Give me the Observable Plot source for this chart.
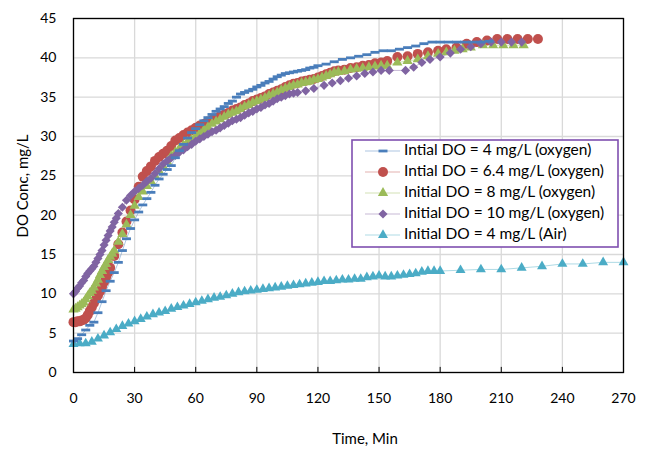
<!DOCTYPE html>
<html><head><meta charset="utf-8">
<script src="https://cdn.jsdelivr.net/npm/d3@7"></script>
<script src="https://cdn.jsdelivr.net/npm/@observablehq/plot@0.6"></script>
<style>body{margin:0;background:#fff;font-family:Lato,"Open Sans",sans-serif}</style>
</head><body><div id="chart"></div>
<script>
const xTicks = [0, 30, 60, 90, 120, 150, 180, 210, 240, 270];
const yTicks = [0, 5, 10, 15, 20, 25, 30, 35, 40, 45];
const seriesNames = [
  "Intial DO = 4 mg/L (oxygen)",
  "Intial DO = 6.4 mg/L (oxygen)",
  "Initial DO = 8 mg/L (oxygen)",
  "Initial DO = 10 mg/L (oxygen)",
  "Initial DO = 4 mg/L (Air)"
];
const seriesColors = ["#4a7ebb", "#c0504d", "#9bbb59", "#8064a2", "#4bacc6"];

// [time (min), DO (mg/L)]
const oxygen4 = [[0,4.0],[2,4.3],[4,4.8],[6,5.4],[8,6.0],[10,6.4],[12,7.6],[14,9.0],[16,10.4],[18,11.6],[20,12.7],[22,14.0],[24,15.5],[26,17.0],[28,18.3],[30,19.4],[32,20.4],[34,21.3],[36,22.1],[38,22.9],[40,23.8],[42,24.6],[44,25.2],[46,25.8],[48,26.3],
[50,27.3],[52,28.2],[54,29.0],[56,29.8],[58,30.5],[60,31.0],[62,31.5],[64,32.0],[66,32.4],[68,32.8],[70,33.2],[72,33.5],[74,33.8],[76,34.2],[78,34.5],[80,35.0],[82,35.4],[84,35.6],[86,35.8],[88,36.0],[90,36.3],[92,36.5],[94,36.8],[96,37.0],[98,37.3],[100,37.6],[102,37.8],[104,38.0],[106,38.1],[108,38.2],[110,38.3],[112,38.4],[114,38.5],[116,38.7],[118,38.8],[120,39.0],
[124,39.2],[128,39.5],[132,39.8],[136,40.0],[140,40.2],[144,40.4],[148,40.7],[152,40.9],[156,40.9],[160,41.1],[164,41.3],[168,41.5],[172,41.8],[176,42.0],[180,42.0],[184,42.0],[188,42.0],[192,42.0],[196,42.0],[200,42.0],[204,42.1]];

const oxygen64 = [[0,6.4],[1,6.4],[2,6.5],[3,6.5],[4,6.6],[5,6.7],[6,6.9],[7,7.3],[8,7.8],[9,8.3],[10,8.8],[11,9.3],[12,9.8],[13,10.3],[14,10.9],[15,11.5],[16,12.1],[17,12.7],[18,13.3],
[20,14.8],[22,16.3],[24,17.8],[26,19.2],[28,20.6],[30,22.0],[32,23.6],[34,24.9],[36,25.6],[38,26.2],[40,26.9],[42,27.4],[44,27.8],[46,28.2],[48,28.8],[50,29.5],[52,29.8],[54,30.2],[56,30.5],[58,30.8],[60,31.1],[62,31.4],[64,31.6],[66,31.9],[68,32.1],[70,32.3],[72,32.6],[74,32.8],[76,33.0],[78,33.3],[80,33.5],[82,33.7],[84,34.0],[86,34.2],[88,34.5],[90,34.7],[92,34.9],[94,35.1],[96,35.4],[98,35.6],[100,35.8],[102,36.0],[104,36.3],[106,36.5],[108,36.7],[110,36.8],[112,37.0],[114,37.1],[116,37.2],[118,37.3],[120,37.5],[122,37.7],[124,37.9],[126,38.1],[128,38.3],[130,38.4],
[133,38.5],[136,38.7],[139,38.8],[142,39.0],[145,39.1],[148,39.3],[151,39.4],[154,39.6],[159,40.1],[164,40.2],[169,40.5],[174,40.7],[179,40.9],[183,41.1],[188,41.3],[193,41.8],[198,42.0],[203,42.2],[208,42.4],[213,42.4],[218,42.4],[223,42.4],[228,42.4]];

const oxygen8 = [[0,8.0],[1,8.1],[2,8.3],[3,8.5],[4,8.7],[5,8.9],[6,9.3],[7,9.7],[8,10.1],[9,10.4],[10,10.8],[11,11.3],[12,11.8],[13,12.4],[14,12.9],[15,13.4],[16,13.8],[17,14.3],[18,14.7],[19,15.1],[20,15.5],
[22,16.6],[24,17.6],[26,18.8],[28,20.0],[30,21.2],[32,22.3],[34,23.0],[36,23.7],[38,24.3],[40,25.0],[42,25.6],[44,26.2],[46,26.8],[48,27.5],[50,28.0],[52,28.5],[54,28.9],[56,29.3],[58,29.6],[60,30.0],[62,30.4],[64,30.8],[66,31.2],[68,31.6],[70,31.9],[72,32.2],[74,32.5],[76,32.8],[78,33.0],[80,33.2],[82,33.5],[84,33.8],[86,34.0],[88,34.3],[90,34.5],[92,34.7],[94,34.9],[96,35.2],[98,35.4],[100,35.6],[102,35.9],[104,36.1],[106,36.3],[108,36.5],[110,36.6],[112,36.8],[114,36.9],[116,37.0],[118,37.2],[120,37.3],[122,37.5],[124,37.7],[126,37.9],[128,38.1],[130,38.2],
[133,38.3],[136,38.5],[139,38.6],[142,38.7],[145,38.8],[148,38.9],[151,39.0],[154,39.0],[159,39.4],[164,39.6],[169,39.8],[174,40.2],[179,40.5],[183,40.7],[187,40.9],[191,41.1],[195,41.3],[201,41.6],[206,41.6],[211,41.6],[216,41.6],[221,41.6]];

const oxygen10 = [[0,10.0],[1,10.3],[2,10.7],[3,11.0],[4,11.4],[5,11.7],[6,12.2],[7,12.6],[8,12.9],[9,13.2],[10,13.5],[11,14.0],[12,14.5],[13,15.0],[14,15.5],[15,16.2],[16,16.8],[17,17.4],[18,18.0],[19,18.5],[20,19.1],[21,19.6],[22,20.2],
[24,21.0],[26,21.9],[28,22.5],[30,23.0],[32,23.4],[34,23.8],[36,24.3],[38,24.7],[40,25.3],[42,25.9],[44,26.5],[46,26.9],[48,27.3],[50,27.6],[52,28.0],[54,28.3],[56,28.7],[58,29.0],[60,29.4],[62,29.7],[64,30.0],[66,30.3],[68,30.6],[70,30.8],[72,31.1],[74,31.4],[76,31.7],[78,32.0],[80,32.2],[82,32.4],[84,32.7],[86,33.0],[88,33.2],[90,33.5],[92,33.7],[94,34.0],[96,34.2],[98,34.5],[100,34.8],[102,35.0],[104,35.2],[106,35.4],[108,35.5],[110,35.6],
[114,35.8],[118,36.1],[123,36.5],[127,36.8],[131,37.1],[135,37.4],[139,37.7],[143,38.0],[147,38.2],[151,38.4],[155,38.4],[163,38.4],[167,38.8],[171,39.4],[175,39.8],[180,40.1],[185,40.6],[190,41.1],[195,41.4],[200,41.8],[205,42.0],[210,42.0],[215,42.0],[220,42.0]];

const air4 = [[0,3.6],[3,3.7],[6,3.7],[9,3.9],[12,4.3],[15,4.7],[18,5.1],[21,5.5],[24,5.9],[27,6.2],[30,6.5],[33,6.8],[36,7.1],[39,7.4],[42,7.6],[45,7.8],[48,8.1],[51,8.3],[54,8.5],[57,8.7],[60,8.9],[63,9.1],[66,9.3],[69,9.5],[72,9.6],[75,9.8],[78,10.0],[81,10.2],[84,10.3],[87,10.4],[90,10.5],[93,10.6],[96,10.7],[99,10.8],[102,10.9],[105,11.0],[108,11.1],[111,11.2],[114,11.3],[117,11.4],[120,11.5],[123,11.6],[126,11.6],[129,11.7],[132,11.8],[135,11.8],[138,11.9],[141,11.9],[144,12.1],[147,12.2],[150,12.3],[153,12.2],[156,12.2],[159,12.3],[162,12.4],[165,12.5],[168,12.6],[171,12.8],[174,12.9],[177,12.9],[180,12.9],
[190,13.0],[200,13.1],[210,13.1],[220,13.3],[230,13.5],[240,13.8],[250,13.8],[260,14.0],[270,14.0]];

const dashSymbol = {draw(ctx) { const w = 4.5, h = 1.4; ctx.moveTo(-w,-h); ctx.lineTo(w,-h); ctx.lineTo(w,h); ctx.lineTo(-w,h); ctx.closePath(); }};
const seriesData = [oxygen4, oxygen64, oxygen8, oxygen10, air4];
const symbols = [dashSymbol, "circle", "triangle", "diamond2", "triangle"];
const radii = [4, 5, 3.8, 4.1, 3.7];
const drawOrder = [1, 2, 3, 4, 0];

const toRows = (arr) => arr.map(([t, v]) => ({t, v}));

const marks = [
  Plot.gridX(xTicks, {stroke: "#d9d9d9", strokeOpacity: 1, strokeWidth: 1.3}),
  Plot.gridY(yTicks, {stroke: "#d9d9d9", strokeOpacity: 1, strokeWidth: 1.3}),
  Plot.axisX(xTicks, {tickSize: 0, tickPadding: 21, fontSize: 14, label: null}),
  Plot.axisY(yTicks, {tickSize: 0, tickPadding: 17, fontSize: 14, label: null}),
  Plot.ruleX(xTicks.slice(1, -1), {y1: 0, y2: 0.65, stroke: "#000", strokeWidth: 1})
];
for (const i of drawOrder) {
  const rows = toRows(seriesData[i]);
  marks.push(Plot.line(rows, {x: "t", y: "v", stroke: seriesColors[i], strokeOpacity: 0.45, strokeWidth: 1}));
}
for (const i of drawOrder) {
  const rows = toRows(seriesData[i]);
  marks.push(Plot.dot(rows, {x: "t", y: "v", symbol: symbols[i], r: radii[i], fill: seriesColors[i], stroke: "none"}));
}
marks.push(Plot.frame({stroke: "#000", strokeWidth: 1.3}));

const plot = Plot.plot({
  width: 650, height: 455,
  marginLeft: 73, marginRight: 27, marginTop: 18, marginBottom: 83,
  style: {fontFamily: "Lato, 'Open Sans', sans-serif", fontSize: "14px", color: "#000", background: "#fff"},
  x: {domain: [0, 270], label: null},
  y: {domain: [0, 45], label: null},
  marks
});
document.getElementById("chart").appendChild(plot);

// Titles and legend
const svg = d3.select(plot);
svg.append("text").attr("x", 24).attr("y", 186).attr("transform", "rotate(-90,24,186)")
  .attr("text-anchor", "middle").attr("dominant-baseline", "middle")
  .style("font-size", "15px").text("DO Conc, mg/L");
svg.append("text").attr("x", 365).attr("y", 440).attr("text-anchor", "middle")
  .attr("dominant-baseline", "middle").style("font-size", "15px").text("Time, Min");

const lg = svg.append("g");
lg.append("rect").attr("x", 352).attr("y", 140).attr("width", 266).attr("height", 107)
  .attr("fill", "#fff").attr("stroke", "#7f4fb0").attr("stroke-width", 1.6);
seriesNames.forEach((name, i) => {
  const y = 151 + i * 21;
  lg.append("line").attr("x1", 365).attr("x2", 400).attr("y1", y).attr("y2", y)
    .attr("stroke", seriesColors[i]).attr("stroke-opacity", 0.45).attr("stroke-width", 1);
  const symType = typeof symbols[i] === "string" ? {circle: d3.symbolCircle, triangle: d3.symbolTriangle, diamond2: d3.symbolDiamond2}[symbols[i]] : symbols[i];
  lg.append("path").attr("transform", `translate(383,${y})`)
    .attr("d", d3.symbol(symType, radii[i] * radii[i] * Math.PI)())
    .attr("fill", seriesColors[i]);
  lg.append("text").attr("x", 404).attr("y", y).attr("text-anchor", "start").attr("dominant-baseline", "middle")
    .style("font-size", "15.5px").text(name);
});
</script></body></html>
